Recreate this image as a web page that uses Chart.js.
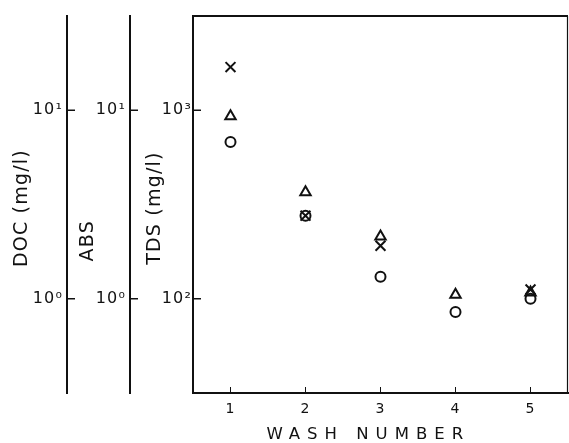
<!DOCTYPE html>
<html>
<head>
<meta charset="utf-8">
<script src="https://cdn.jsdelivr.net/npm/chart.js@4.4.0/dist/chart.umd.min.js"></script>
<style>
  html, body { margin: 0; padding: 0; background: #fff; }
  #wrap { width: 569px; height: 443px; }
</style>
</head>
<body>
<div id="wrap"><canvas id="chart" width="569" height="443"></canvas></div>
<script>
// values (TDS scale, mg/l)
const washNumbers = [1, 2, 3, 4, 5];
const circleTds   = [678, 276, 131, 85, 100];
const triangleTds = [929, 367, 214, 105, 108];
const crossTds    = [1694, 276, 191, null, 112];

// tick values and labels
const xTickValues   = [1, 2, 3, 4, 5];
const xTickLabels   = ["1", "2", "3", "4", "5"];
const docTickValues = [1, 10];
const docTickLabels = ["10\u2070", "10\u00B9"];
const absTickValues = [1, 10];
const absTickLabels = ["10\u2070", "10\u00B9"];
const tdsTickValues = [100, 1000];
const tdsTickLabels = ["10\u00B2", "10\u00B3"];

const INK = "#111";
const FONT = "'DejaVu Sans', sans-serif";

function points(values) {
    return washNumbers
        .map((x, i) => ({ x: x, y: values[i] }))
        .filter((p) => p.y !== null);
}

function fixedTicks(values) {
    return (scale) => { scale.ticks = values.map((v) => ({ value: v })); };
}

function leftAxis(weight, min, max, tickValues, tickLabels, title, titlePad, tickPad) {
    return {
        type: "logarithmic",
        position: "left",
        weight: weight,
        min: min,
        max: max,
        bounds: "data",
        afterBuildTicks: fixedTicks(tickValues),
        afterFit: (scale) => { scale.width = 63; },
        grid: { display: false, drawTicks: false },
        border: { display: true, color: INK, width: 2 },
        ticks: {
            color: INK,
            padding: tickPad,
            font: { family: FONT, size: 16 },
            callback: (v) => tickLabels[tickValues.indexOf(v)]
        },
        title: {
            display: true,
            text: title,
            color: INK,
            font: { family: FONT, size: 19 },
            padding: { top: titlePad, bottom: 0 }
        }
    };
}

// frame, inward tick marks, letter spacing
// y-axis text is drawn before the datasets, x-axis text (z: 1) after them
const decor = {
    id: "decor",
    beforeDraw(chart) {
        chart.ctx.letterSpacing = "1.2px";
    },
    afterDatasetsDraw(chart) {
        chart.ctx.letterSpacing = "7px";
    },
    afterDraw(chart) {
        const ctx = chart.ctx;
        const a = chart.chartArea;
        ctx.letterSpacing = "0px";
        ctx.save();
        ctx.strokeStyle = INK;

        ctx.lineWidth = 2;
        ctx.beginPath();
        ctx.moveTo(a.left, a.top);
        ctx.lineTo(a.right, a.top);
        ctx.stroke();

        ctx.lineWidth = 1.2;
        ctx.beginPath();
        ctx.moveTo(a.right - 0.5, a.top);
        ctx.lineTo(a.right - 0.5, a.bottom);
        ctx.stroke();

        ["doc", "abs", "tds"].forEach((id) => {
            const s = chart.scales[id];
            s.ticks.forEach((t) => {
                const y = s.getPixelForValue(t.value);
                ctx.lineWidth = 1.5;
                ctx.beginPath();
                ctx.moveTo(s.right, y);
                ctx.lineTo(s.right + 8, y);
                ctx.stroke();
            });
        });

        const xs = chart.scales.x;
        xs.ticks.forEach((t) => {
            const x = xs.getPixelForValue(t.value);
            ctx.lineWidth = 1;
            ctx.beginPath();
            ctx.moveTo(x, a.bottom);
            ctx.lineTo(x, a.bottom - 6);
            ctx.stroke();
        });
        ctx.restore();
    }
};

new Chart(document.getElementById("chart"), {
    type: "scatter",
    data: {
        datasets: [
            {
                label: "circle",
                data: points(circleTds),
                yAxisID: "tds",
                pointStyle: "circle",
                pointRadius: 5,
                pointBorderWidth: 2,
                borderColor: INK,
                backgroundColor: "rgba(0,0,0,0)"
            },
            {
                label: "triangle",
                data: points(triangleTds),
                yAxisID: "tds",
                pointStyle: "triangle",
                pointRadius: 6,
                pointBorderWidth: 2,
                borderColor: INK,
                backgroundColor: "rgba(0,0,0,0)"
            },
            {
                label: "cross",
                data: points(crossTds),
                yAxisID: "tds",
                pointStyle: "crossRot",
                pointRadius: 7,
                pointBorderWidth: 2,
                borderColor: INK,
                backgroundColor: INK
            }
        ]
    },
    options: {
        responsive: false,
        animation: false,
        devicePixelRatio: 1,
        layout: { autoPadding: false, padding: { left: 4, top: 16, right: 1, bottom: 0 } },
        plugins: {
            legend: { display: false },
            tooltip: { enabled: false }
        },
        scales: {
            x: {
                type: "linear",
                position: "bottom",
                min: 0.5,
                max: 5.5,
                bounds: "data",
                afterBuildTicks: fixedTicks(xTickValues),
                afterFit: (scale) => {
                    scale.height = 50;
                    scale.paddingLeft = 0;
                    scale.paddingRight = 0;
                },
                grid: { display: false, drawTicks: false, z: 1 },
                border: { display: true, color: INK, width: 2, z: 1 },
                ticks: {
                    z: 1,
                    color: INK,
                    padding: 8,
                    labelOffset: 3,
                    font: { family: FONT, size: 14 },
                    callback: (v) => xTickLabels[xTickValues.indexOf(v)]
                },
                title: {
                    display: true,
                    text: "WASH NUMBER  ",
                    color: INK,
                    font: { family: FONT, size: 16.5 },
                    padding: { top: 0, bottom: -2 }
                }
            },
            doc: leftAxis(3, Math.pow(10, -0.5), Math.pow(10, 1.5), docTickValues, docTickLabels, "DOC (mg/l) ", 7, 4),
            abs: leftAxis(2, Math.pow(10, -0.5), Math.pow(10, 1.5), absTickValues, absTickLabels, "ABS          ", 10, 4),
            tds: leftAxis(1, Math.pow(10, 1.5), Math.pow(10, 3.5), tdsTickValues, tdsTickLabels, "TDS (mg/l) ", 14, 1)
        }
    },
    plugins: [decor]
});
</script>
</body>
</html>
